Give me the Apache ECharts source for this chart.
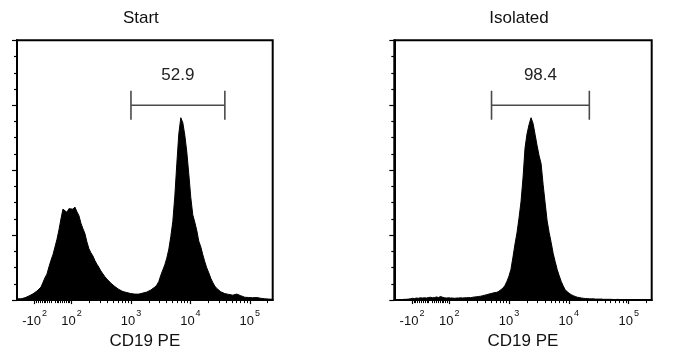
<!DOCTYPE html>
<html><head><meta charset="utf-8">
<script src="https://cdn.jsdelivr.net/npm/echarts@6/dist/echarts.min.js"></script>
<style>html,body{margin:0;padding:0;background:#fff}#c{width:700px;height:355px}</style>
</head><body><div id="c"></div>
<script>
// ---- data ----
const panelTitles = ['Start', 'Isolated'];
const axisTitle = 'CD19 PE';
const binWidth = 2; // display channels per histogram bin (0..256 channel scale)
const startCounts = [
  0.5,0.6,0.5,0.7,0.9,1.1,1.6,2.0,2.4,2.9,
  3.5,4.0,5.0,6.8,8.6,10.0,12.8,15.3,17.5,20.4,
  23.4,27.0,31.2,35.0,35.4,33.8,35.2,34.6,35.0,35.8,
  34.0,32.5,29.6,27.5,25.6,22.4,19.8,18.2,17.0,15.2,
  13.8,12.6,11.2,10.1,9.0,8.1,7.4,6.5,5.8,5.2,
  4.6,4.1,3.6,3.3,3.0,2.9,2.7,2.5,2.4,2.3,
  2.4,2.3,2.5,2.7,2.9,3.1,3.5,3.9,4.3,5.0,
  5.8,7.2,9.6,11.6,13.6,16.2,19.6,24.5,30.3,40.0,
  52.5,64.0,70.2,68.3,63.5,57.0,48.5,39.5,32.8,30.0,
  26.8,22.7,20.5,17.5,14.8,12.4,10.5,8.4,6.8,5.4,
  4.5,3.8,3.2,2.8,2.5,2.3,2.2,2.0,1.9,2.1,
  2.3,2.2,1.7,1.3,1.1,1.1,1.0,1.0,0.9,0.9,
  1.0,0.8,0.7,0.6,0.5,0.5,0.4,0.3,0.3
];
const isolatedCounts = [
  0.1,0.1,0.2,0.2,0.2,0.3,0.3,0.4,0.5,0.7,
  0.6,0.8,0.7,0.9,0.8,0.9,0.8,1.0,1.1,0.9,
  1.0,1.2,1.0,1.4,1.1,0.9,0.8,0.9,0.8,0.8,
  0.7,0.8,0.8,0.9,0.8,0.9,0.9,1.0,0.9,1.1,
  1.2,1.3,1.4,1.5,1.7,1.9,2.1,2.3,2.5,2.7,
  2.9,3.0,3.4,4.0,4.6,5.6,7.2,9.2,11.8,16.5,
  21.5,25.8,31.5,37.8,47.0,58.5,64.0,67.5,70.2,68.0,
  63.8,59.5,55.6,52.5,44.5,37.5,30.5,26.0,22.2,18.0,
  14.8,11.8,9.4,7.2,5.4,4.0,3.2,2.6,2.1,1.7,
  1.4,1.1,1.0,0.8,0.7,0.6,0.6,0.5,0.5,0.5,
  0.4,0.4,0.4,0.4,0.3,0.3,0.3,0.3,0.3,0.2,
  0.2,0.3,0.2,0.2,0.2,0.2,0.1,0.2,0.1,0.1,
  0.1,0.1,0.1,0.1,0.1,0.1,0.1,0.1,0.1
];
const tickValues = [-100, 100, 1000, 10000, 100000];
const tickLabels = ['-10^2', '10^2', '10^3', '10^4', '10^5'];
const gateStart = [1000, 38000];
const gateIsolated = [510, 22000];
const gateLabels = ['52.9', '98.4'];

// ---- biexponential display scale (value -> channel 0..256) ----
function toChannel(v) {
  const Z = 36.1, L = 18.5, D = 59.5;
  if (Math.abs(v) <= 100) return Z + v / 100 * L;
  return Z + Math.sign(v) * (L + D * Math.log10(Math.abs(v) / 100));
}
const majorCh = tickValues.map(toChannel);
const minorVals = [];
for (let i = -9; i <= 9; i++) if (i !== 0) minorVals.push(i * 10);
for (let k = 2; k <= 5; k++) for (let m = 2; m <= 9; m++) minorVals.push(m * Math.pow(10, k));
const minorCh = minorVals.map(toChannel).filter(c => c > 0 && c < 256);

const FONT = "'Liberation Sans', Arial, Helvetica, sans-serif";
const grids = [
  {left: 17, top: 40.3, width: 255.7, height: 262.3},
  {left: 394.3, top: 40.3, width: 257.4, height: 262.3}
];

function fmtTick(val) {
  let best = 0;
  majorCh.forEach((c, i) => { if (Math.abs(c - val) < Math.abs(majorCh[best] - val)) best = i; });
  const parts = tickLabels[best].split('^');
  return '{b|' + parts[0] + '}{s|' + parts[1] + '}';
}

const option = {
  animation: false,
  backgroundColor: '#fff',
  title: panelTitles.map((t, i) => ({
    text: t, left: grids[i].left + grids[i].width / 2 - 4, top: 9, padding: 0,
    textAlign: 'center',
    textStyle: {fontFamily: FONT, fontSize: 17, fontWeight: 'normal', color: '#111', lineHeight: 18}
  })),
  grid: grids.map(g => Object.assign({show: true, borderColor: '#000', borderWidth: 2, containLabel: false}, g)),
  xAxis: [],
  yAxis: [],
  series: []
};

[0, 1].forEach(i => {
  option.xAxis.push({
    type: 'value', gridIndex: i, min: 0, max: 256, position: 'bottom',
    name: axisTitle, nameLocation: 'middle', nameGap: 31,
    nameTextStyle: {fontFamily: FONT, fontSize: 17, color: '#111'},
    axisLine: {show: true, onZero: false, lineStyle: {color: '#000', width: 2}},
    axisTick: {show: true, length: 4, customValues: majorCh, lineStyle: {color: '#000', width: 1.2}},
    axisLabel: {
      show: true, customValues: majorCh, margin: 9, formatter: fmtTick, color: '#111',
      rich: {
        b: {fontFamily: FONT, fontSize: 13, lineHeight: 19, verticalAlign: 'bottom', color: '#111'},
        s: {fontFamily: FONT, fontSize: 9, lineHeight: 10, verticalAlign: 'top', padding: [0, 0, 0, 1], color: '#111'}
      }
    },
    splitLine: {show: false}
  });
  option.xAxis.push({
    type: 'value', gridIndex: i, min: 0, max: 256, position: 'bottom',
    axisLine: {show: false, onZero: false},
    axisTick: {show: true, length: 3, customValues: minorCh, lineStyle: {color: '#000', width: 1}},
    axisLabel: {show: false},
    splitLine: {show: false}
  });
  option.yAxis.push({
    type: 'value', gridIndex: i, min: 0, max: 100, interval: 25,
    axisLine: {show: true, lineStyle: {color: '#000', width: 2}},
    axisTick: {show: true, length: 5, lineStyle: {color: '#000', width: 1.2}},
    minorTick: {show: true, splitNumber: 4, length: 3, lineStyle: {color: '#000', width: 1.2}},
    axisLabel: {show: false},
    splitLine: {show: false}
  });
});

const counts = [startCounts, isolatedCounts];
const gates = [gateStart, gateIsolated];
[0, 1].forEach(i => {
  option.series.push({
    type: 'line', xAxisIndex: i * 2, yAxisIndex: i,
    data: counts[i].map((c, j) => [j * binWidth, c]),
    showSymbol: false, symbol: 'none',
    lineStyle: {color: '#000', width: 1},
    areaStyle: {color: '#000', opacity: 1},
    z: 2
  });
  const label = gateLabels[i];
  option.series.push({
    type: 'custom', xAxisIndex: i * 2, yAxisIndex: i,
    data: [[toChannel(gates[i][0]), toChannel(gates[i][1]), 75]],
    encode: {x: [0, 1], y: 2},
    renderItem: function (params, api) {
      const p1 = api.coord([api.value(0), api.value(2)]);
      const p2 = api.coord([api.value(1), api.value(2)]);
      const h = 14.5;
      const st = {stroke: '#4a4a4a', lineWidth: 1.6};
      return {type: 'group', children: [
        {type: 'line', shape: {x1: p1[0], y1: p1[1], x2: p2[0], y2: p2[1]}, style: st},
        {type: 'line', shape: {x1: p1[0], y1: p1[1] - h, x2: p1[0], y2: p1[1] + h}, style: st},
        {type: 'line', shape: {x1: p2[0], y1: p2[1] - h, x2: p2[0], y2: p2[1] + h}, style: st},
        {type: 'text', style: {text: label, x: (p1[0] + p2[0]) / 2, y: p1[1] - 30,
          align: 'center', verticalAlign: 'middle', fontSize: 17, fontFamily: FONT, fill: '#222'}}
      ]};
    },
    z: 3
  });
});

const chart = echarts.init(document.getElementById('c'), null, {renderer: 'canvas'});
chart.setOption(option);
</script>
</body></html>
